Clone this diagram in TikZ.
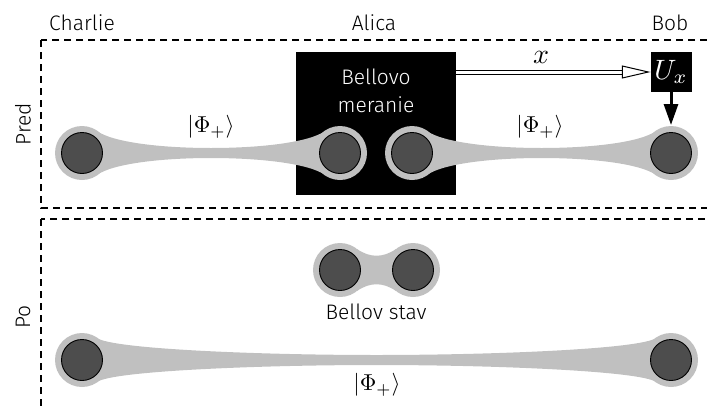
\documentclass[tikz,border=0pt]{standalone}
\usepackage{fontspec}
\setmainfont{Fira Sans Light}
\usetikzlibrary{calc,arrows.meta}
\definecolor{halo}{HTML}{C0C0C0}
\definecolor{core}{HTML}{4D4D4D}
\newcommand\tlink[2]{%
  \fill[halo] ($(#1)+(15pt,22pt)$) .. controls ($(#1)+(30pt,11pt)$) and ($(#1)!0.3!(#2)+(0pt,5pt)$) .. ($(#1)!0.5!(#2)+(0pt,5pt)$)
    .. controls ($(#1)!0.7!(#2)+(0pt,5pt)$) and ($(#2)+(-30pt,11pt)$) .. ($(#2)+(-15pt,22pt)$)
    -- ($(#2)+(-15pt,-22pt)$) .. controls ($(#2)+(-30pt,-11pt)$) and ($(#1)!0.7!(#2)+(0pt,-5pt)$) .. ($(#1)!0.5!(#2)+(0pt,-5pt)$)
    .. controls ($(#1)!0.3!(#2)+(0pt,-5pt)$) and ($(#1)+(30pt,-11pt)$) .. ($(#1)+(15pt,-22pt)$) -- cycle;}
\newcommand\phiket{\scalebox{2.3}{$|\Phi_+\rangle$}}
\begin{document}
\begin{tikzpicture}[x=1pt,y=-1pt,
  txt/.style={font=\fontsize{21}{28}\selectfont, inner sep=0pt},
  mth/.style={font=\fontsize{10}{12}\selectfont, inner sep=0pt},
  qubit/.style={circle, draw=black, line width=0.9pt, fill=core, minimum size=41pt, inner sep=0pt},
  frame/.style={dash pattern=on 7pt off 5pt, line width=1.5pt},
  blackbox/.style={fill=black, inner sep=0pt}]
\useasboundingbox (0,0) rectangle (707,410);
\clip (0,0) rectangle (707,410);
% frames
\draw[frame] (41,40) rectangle (740,208);
\draw[frame] (41,219) rectangle (740,440);
% Bell measurement box
\node[blackbox, minimum width=160pt, minimum height=143pt] (bm) at (376,123.5) {};
\node[txt, text=white, align=center] (bmt) at (376,91) {Bellovo\\meranie};
% qubit positions
\coordinate (c1) at (82,153);
\coordinate (a1) at (340,153);
\coordinate (a2) at (412,153);
\coordinate (b1) at (671,153);
\coordinate (p1) at (340,270);
\coordinate (p2) at (413,270);
\coordinate (c2) at (82,360);
\coordinate (b2) at (671,360);
% halos
\foreach \q in {c1,a1,a2,b1,p1,p2,c2,b2} \fill[halo] (\q) circle (27pt);
\tlink{c1}{a1}
\tlink{a2}{b1}
\tlink{c2}{b2}
\fill[halo] ($(p1)+(17pt,21pt)$) .. controls ($(p1)+(30pt,12pt)$) and ($(p2)+(-30pt,12pt)$) .. ($(p2)+(-17pt,21pt)$)
  -- ($(p2)+(-17pt,-21pt)$) .. controls ($(p2)+(-30pt,-12pt)$) and ($(p1)+(30pt,-12pt)$) .. ($(p1)+(17pt,-21pt)$) -- cycle;
% qubits
\foreach \q in {c1,a1,a2,b1,p1,p2,c2,b2} \node[qubit] (n\q) at (\q) {};
% labels
\node[txt, anchor=base] (lc) at (82,30) {Charlie};
\node[txt, anchor=base] (la) at (374,30) {Alica};
\node[txt, anchor=base] (lb) at (670,30) {Bob};
\node[txt, rotate=90] (lpred) at (23,124) {Pred};
\node[txt, rotate=90] (lpo) at (23,317) {Po};
\node[mth] (phi1) at (211,127) {\phiket};
\node[mth] (phi2) at (540,127) {\phiket};
\node[mth] (phi3) at (377,385) {\phiket};
\node[txt] (bs) at (376,312) {Bellov stav};
% Ux
\node[blackbox, minimum width=41pt, minimum height=40pt, text=white, font=\fontsize{10}{12}\selectfont] (ux) at (671,72) {\scalebox{2.8}{$U_x$}};
\draw[double, double distance=3pt, line width=1pt] (bm.east |- ux.west) -- ($(ux.west)+(-26pt,0pt)$) coordinate (hb);
\draw[line width=1pt, fill=white, line join=miter] ($(ux.west)+(-2pt,0pt)$) coordinate (ht) -- ($(ht)+(-26pt,6pt)$) -- ($(ht)+(-26pt,-6pt)$) -- cycle;
\node[mth] (xl) at (541,57) {\scalebox{2.8}{$x$}};
\draw[line width=3pt, -{Triangle[length=21pt,width=14pt]}] (ux.south) -- ($(b1)+(0pt,28pt)$);
\end{tikzpicture}
\end{document}
